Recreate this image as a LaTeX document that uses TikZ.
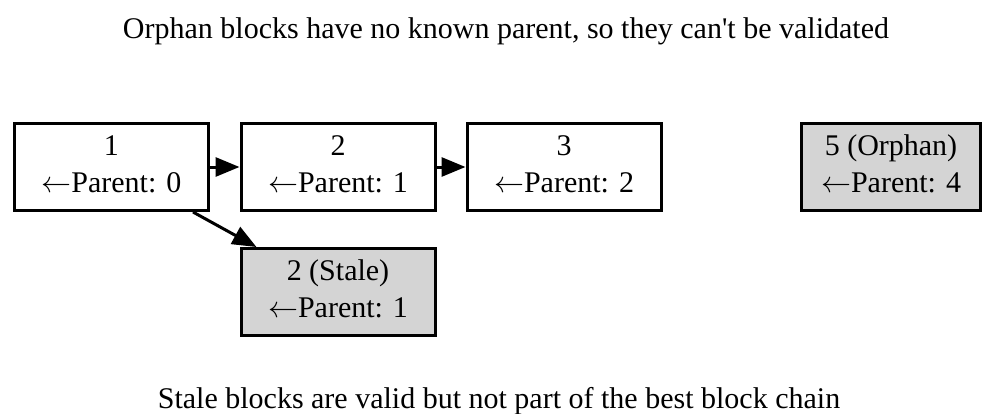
\RequirePackage{fix-cm}
\documentclass[tikz,border=0pt]{standalone}
\usepackage{fontspec}
\setmainfont{Liberation Serif}
% plain family, so the apostrophe stays straight
\newfontfamily\labelfont{Liberation Serif}
\usetikzlibrary{arrows.meta}
\tikzset{
  blk/.style={draw, line width=3pt, minimum width=194pt, minimum height=87pt,
    align=center, inner sep=0pt, font=\labelfont\fontsize{30}{37}\selectfont},
  greyblk/.style={blk, fill=black!17},
  link/.style={line width=3pt, -{Triangle[length=24pt,width=19pt]}},
  caption/.style={font=\labelfont\fontsize{30}{37}\selectfont, inner sep=0pt, anchor=base}
}
\newcommand{\blocktext}[2]{\strut#1\\\strut$\leftarrow$Parent: #2}
\begin{document}
\begin{tikzpicture}[x=1pt, y=-1pt]
  \useasboundingbox (0,0) rectangle (987,413);
  % captions above and below the chain
  \node[caption] (top) at (506,38) {Orphan blocks have no known parent, so they can't be validated};
  \node[caption] (bottom) at (499,408) {Stale blocks are valid but not part of the best block chain};
  % main chain
  \node[blk] (b1) at (111.4,167) {\blocktext{1}{0}};
  \node[blk] (b2) at (338,167) {\blocktext{2}{1}};
  \node[blk] (b3) at (564,167) {\blocktext{3}{2}};
  % orphan and stale blocks
  \node[greyblk, minimum width=179pt] (b5) at (891,167) {\blocktext{5 (Orphan)}{4}};
  \node[greyblk] (s2) at (338,292) {\blocktext{2 (Stale)}{1}};
  % parent links
  \draw[link] (b1) -- (b2);
  \draw[link] (b2) -- (b3);
  \draw[link] (b1) -- (s2);
\end{tikzpicture}
\end{document}
